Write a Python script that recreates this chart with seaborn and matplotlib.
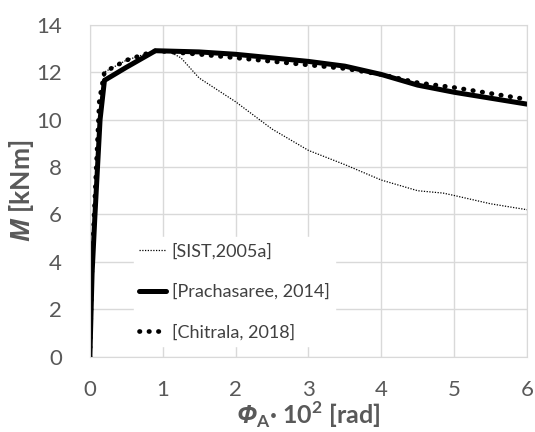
import matplotlib
matplotlib.use("Agg")
import matplotlib.pyplot as plt
import seaborn as sns

# data
x_sist = [0.0, 0.03, 0.07, 0.14, 0.2, 0.5, 0.9, 1.1, 1.25, 1.5, 2.0, 2.5, 3.0, 3.5, 4.0, 4.5, 4.85, 5.0, 5.5, 6.0]
m_sist = [0.0, 4.0, 6.5, 10.5, 12.0, 12.5, 12.9, 12.85, 12.6, 11.75, 10.75, 9.6, 8.7, 8.1, 7.45, 7.0, 6.9, 6.8, 6.45, 6.2]

x_prach = [0.0, 0.03, 0.07, 0.14, 0.2, 0.5, 0.9, 1.5, 2.0, 2.5, 3.0, 3.5, 4.0, 4.5, 5.0, 5.5, 6.0]
m_prach = [0.0, 3.5, 6.0, 10.0, 11.65, 12.2, 12.9, 12.85, 12.75, 12.6, 12.45, 12.25, 11.9, 11.45, 11.15, 10.9, 10.65]

x_chit = [0.0, 0.03, 0.07, 0.13, 0.2, 0.5, 0.9, 1.5, 2.0, 2.5, 3.0, 3.5, 4.0, 4.5, 5.0, 5.5, 6.0]
m_chit = [0.0, 4.0, 6.8, 10.8, 12.0, 12.5, 12.9, 12.75, 12.6, 12.45, 12.3, 12.15, 11.9, 11.55, 11.35, 11.1, 10.85]

labels = ['[SIST,2005a]', '[Prachasaree, 2014]', '[Chitrala, 2018]']

sns.set_style("whitegrid", {"grid.color": "#d9d9d9", "axes.edgecolor": "#d9d9d9"})
plt.rcParams['font.family'] = ['Lato', 'DejaVu Sans']
plt.rcParams['mathtext.fontset'] = 'custom'
plt.rcParams['mathtext.rm'] = 'Lato:bold'
plt.rcParams['mathtext.bf'] = 'Lato:bold'
plt.rcParams['mathtext.it'] = 'Open Sans:italic:bold'
# Greek capitals are forced upright under \mathit, so use \mathcal for the italic Phi
plt.rcParams['mathtext.cal'] = 'Open Sans:italic:bold'

fig = plt.figure(figsize=(5.35, 4.32), dpi=100)
ax = fig.add_axes([0.168, 0.174, 0.817, 0.769])

sns.lineplot(x=x_sist, y=m_sist, ax=ax, color='black', lw=0.9, linestyle=(0, (1, 1.2)),
             sort=False, label=labels[0])
sns.lineplot(x=x_prach, y=m_prach, ax=ax, color='black', lw=3.6, sort=False, label=labels[1])
sns.lineplot(x=x_chit, y=m_chit, ax=ax, color='black', lw=3.4, linestyle=(0, (0.1, 1.9)),
             dash_capstyle='round', sort=False, label=labels[2])

ax.set_xlim(0, 6)
ax.set_ylim(0, 14)
ax.set_xticks(range(0, 7))
ax.set_yticks(range(0, 15, 2))
ax.tick_params(labelsize=16, colors='#595959', length=0)
ax.tick_params(axis='x', pad=17)
ax.tick_params(axis='y', pad=20)
for s in ax.spines.values():
    s.set_color('#d9d9d9')
ax.grid(True, color='#d9d9d9', lw=1)

ax.set_xlabel(r'$\mathcal{Φ}_{\mathrm{A}}$· 10$^{\mathrm{2}}$ [rad]', fontsize=18,
              fontweight='bold', color='#595959', labelpad=-1)
ax.set_ylabel(r'$\mathit{M}$ [kNm]', fontsize=19, fontweight='bold', color='#595959', labelpad=0)

leg = ax.legend(loc='lower left', bbox_to_anchor=(0.08, 0.005), frameon=True, fontsize=13,
                handlelength=1.5, handletextpad=0.3, labelspacing=1.35, borderpad=0.3,
                facecolor='white', edgecolor='white', framealpha=1.0, fancybox=False)
for t in leg.get_texts():
    t.set_color('#404040')

plt.savefig('out.png', dpi=100)
